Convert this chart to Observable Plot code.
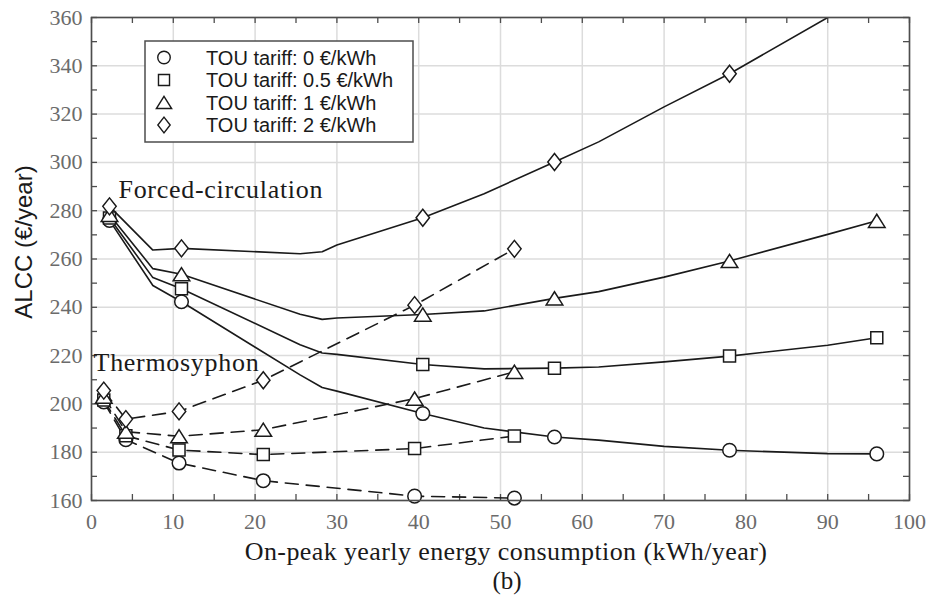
<!DOCTYPE html>
<html>
<head>
<meta charset="utf-8">
<script src="https://cdn.jsdelivr.net/npm/d3@7"></script>
<script src="https://cdn.jsdelivr.net/npm/@observablehq/plot@0.6"></script>
<style>
  html, body { margin: 0; padding: 0; background: #fff; }
  #chart { width: 928px; height: 602px; }
</style>
</head>
<body>
<div id="chart"></div>
<script>
// ---------- data ----------
const tariffLabels = ["TOU tariff: 0 €/kWh", "TOU tariff: 0.5 €/kWh", "TOU tariff: 1 €/kWh", "TOU tariff: 2 €/kWh"];

// Forced-circulation (solid lines)
const forcedX       = [2.2, 7.5, 11, 25.5, 28.2, 30, 40.5, 48, 56.6, 62, 70, 78, 90, 96];
const forcedMarkerX = [2.2, 11, 40.5, 56.6, 78, 96];
const forcedT0  = [276.0, 249.0, 242.3, 212.0, 206.8, 205.3, 196.0, 190.0, 186.3, 185.0, 182.4, 180.8, 179.4, 179.3];
const forcedT05 = [277.0, 252.3, 247.7, 224.5, 221.1, 220.5, 216.3, 214.5, 214.8, 215.3, 217.4, 219.8, 224.3, 227.4];
const forcedT1  = [278.3, 256.0, 253.7, 237.1, 235.0, 235.6, 237.0, 238.5, 243.7, 246.5, 252.5, 259.2, 270.2, 275.8];
const forcedT2  = [281.8, 263.7, 264.4, 262.2, 263.0, 265.8, 277.1, 287.0, 300.2, 308.5, 323.0, 336.7, 360.0, 372.0];

// Thermosyphon (dashed lines)
const thermoX   = [1.5, 4.2, 10.7, 21.0, 39.5, 51.7];
const thermoT0  = [200.8, 185.2, 175.5, 168.2, 161.8, 161.0];
const thermoT05 = [201.6, 186.8, 180.9, 179.0, 181.5, 186.7];
const thermoT1  = [203.0, 188.5, 186.6, 189.3, 202.2, 213.3];
const thermoT2  = [205.5, 193.7, 196.9, 209.8, 240.9, 264.2];

// axis ticks
const xTickValues = [0, 10, 20, 30, 40, 50, 60, 70, 80, 90, 100];
const yTickValues = [160, 180, 200, 220, 240, 260, 280, 300, 320, 340, 360];
const xMinorTicks = [0, 5, 10, 15, 20, 25, 30, 35, 40, 45, 50, 55, 60, 65, 70, 75, 80, 85, 90, 95, 100];
const yMinorTicks = [160, 170, 180, 190, 200, 210, 220, 230, 240, 250, 260, 270, 280, 290, 300, 310, 320, 330, 340, 350, 360];

// annotations
const systemLabels = ["Forced-circulation", "Thermosyphon"];
const systemLabelX = [3.3, 0.25];
const systemLabelY = [288.8, 217.0];

const xLabel = "On-peak yearly energy consumption (kWh/year)";
const yLabel = "ALCC (€/year)";
const caption = "(b)";

// ---------- tidy tables ----------
const forcedSeries = [forcedT0, forcedT05, forcedT1, forcedT2];
const thermoSeries = [thermoT0, thermoT05, thermoT1, thermoT2];
const forcedRows = [];
forcedSeries.forEach((ys, k) => ys.forEach((y, i) => forcedRows.push({k, x: forcedX[i], y, marker: forcedMarkerX.includes(forcedX[i])})));
const thermoRows = [];
thermoSeries.forEach((ys, k) => ys.forEach((y, i) => thermoRows.push({k, x: thermoX[i], y, marker: true})));

// ---------- symbols (MATLAB-like markers) ----------
function makeSymbols(s) {
  return [
    {draw(c) { const r = 6.8 * s; c.moveTo(r, 0); c.arc(0, 0, r, 0, 2 * Math.PI); c.closePath(); }},
    {draw(c) { const h = 6 * s; c.moveTo(-h, -h); c.lineTo(h, -h); c.lineTo(h, h); c.lineTo(-h, h); c.closePath(); }},
    {draw(c) { const w = 8.3 * s, h = 6.6 * s; c.moveTo(0, -h); c.lineTo(w, h); c.lineTo(-w, h); c.closePath(); }},
    {draw(c) { const w = 6.7 * s, h = 8.5 * s; c.moveTo(0, -h); c.lineTo(w, 0); c.lineTo(0, h); c.lineTo(-w, 0); c.closePath(); }}
  ];
}
const plotSymbols = makeSymbols(1);
const legendSymbols = makeSymbols(0.92);

const INK = "#1a1a1a";
const FRAME = "#4d4d4d";
const W = 928, H = 602, ML = 91, MR = 19, MT = 17, MB = 102;
const FW = W - ML - MR, FH = H - MT - MB;

const marks = [
  Plot.gridX(xTickValues, {stroke: "#dcdcdc", strokeOpacity: 1, strokeWidth: 1.5}),
  Plot.gridY(yTickValues, {stroke: "#dcdcdc", strokeOpacity: 1, strokeWidth: 1.5}),
  // inward ticks
  Plot.tickX(xMinorTicks, {x: d => d, insetTop: FH - 6, stroke: FRAME, strokeWidth: 1.3}),
  Plot.tickX(xMinorTicks, {x: d => d, insetBottom: FH - 6, stroke: FRAME, strokeWidth: 1.3}),
  Plot.tickY(yMinorTicks, {y: d => d, insetRight: FW - 6, stroke: FRAME, strokeWidth: 1.3}),
  Plot.tickY(yMinorTicks, {y: d => d, insetLeft: FW - 6, stroke: FRAME, strokeWidth: 1.3}),
  Plot.axisX(xTickValues, {tickSize: 0, tickPadding: 13, color: "#6b6b6b", fontSize: 22, label: null}),
  Plot.axisY(yTickValues, {tickSize: 0, tickPadding: 9, color: "#6b6b6b", fontSize: 22, label: null}),
  Plot.line(forcedRows, {x: "x", y: "y", z: "k", stroke: INK, strokeWidth: 1.6, clip: true}),
  Plot.line(thermoRows, {x: "x", y: "y", z: "k", stroke: INK, strokeWidth: 1.6, strokeDasharray: "13,8"}),
];
for (let k = 0; k < 4; k++) {
  marks.push(Plot.dot(forcedRows.filter(d => d.k === k && d.marker), {x: "x", y: "y", symbol: plotSymbols[k], fill: "white", stroke: INK, strokeWidth: 1.5, clip: true}));
  marks.push(Plot.dot(thermoRows.filter(d => d.k === k), {x: "x", y: "y", symbol: plotSymbols[k], fill: "white", stroke: INK, strokeWidth: 1.5}));
}
marks.push(Plot.text(systemLabels, {
  x: (d, i) => systemLabelX[i], y: (d, i) => systemLabelY[i], text: d => d,
  textAnchor: "start", lineAnchor: "middle", fontSize: 26, fill: INK,
  fontFamily: "'Liberation Serif', 'Times New Roman', serif"
}));
marks.push(Plot.frame({stroke: FRAME, strokeWidth: 1.6}));

const chart = Plot.plot({
  width: W, height: H,
  marginLeft: ML, marginRight: MR, marginTop: MT, marginBottom: MB,
  x: {domain: [0, 100]},
  y: {domain: [160, 360]},
  style: {fontFamily: "'Liberation Serif', 'Times New Roman', serif", fontSize: "22px", background: "white", color: INK},
  marks
});
document.getElementById("chart").appendChild(chart);

// ---------- legend, axis titles, caption ----------
const svg = d3.select(chart);
svg.selectAll("text").filter(function () { return this.textContent === "Forced-circulation" || this.textContent === "Thermosyphon"; })
  .style("letter-spacing", "0.7px");

const lg = svg.append("g").attr("class", "legend");
lg.append("rect").attr("x", 145).attr("y", 41).attr("width", 268).attr("height", 101)
  .attr("fill", "white").attr("stroke", FRAME).attr("stroke-width", 1.5);
const rowsY = [57.5, 80, 102.5, 125];
tariffLabels.forEach((t, i) => {
  lg.append("path").attr("d", d3.symbol().type(legendSymbols[i])())
    .attr("transform", `translate(164,${rowsY[i]})`)
    .attr("fill", "white").attr("stroke", INK).attr("stroke-width", 1.4);
  lg.append("text").attr("x", 206).attr("y", rowsY[i]).attr("dy", "0.36em")
    .attr("text-anchor", "start")
    .attr("font-family", "'Liberation Sans', Arial, sans-serif").attr("font-size", 20)
    .attr("fill", INK).text(t);
});

svg.append("text").attr("x", 506).attr("y", 551).attr("dy", "0.35em")
  .attr("text-anchor", "middle").attr("font-family", "'Liberation Serif', 'Times New Roman', serif")
  .attr("font-size", 26).attr("letter-spacing", "0.4px").attr("fill", INK).text(xLabel);

svg.append("text").attr("x", 507).attr("y", 580).attr("dy", "0.35em")
  .attr("text-anchor", "middle").attr("font-family", "'Liberation Serif', 'Times New Roman', serif")
  .attr("font-size", 25).attr("fill", INK).text(caption);

svg.append("text").attr("transform", "translate(24,242) rotate(-90)").attr("dy", "0.35em")
  .attr("text-anchor", "middle").attr("font-family", "'Liberation Sans', Arial, sans-serif")
  .attr("font-size", 24).attr("fill", INK).text(yLabel);
</script>
</body>
</html>
